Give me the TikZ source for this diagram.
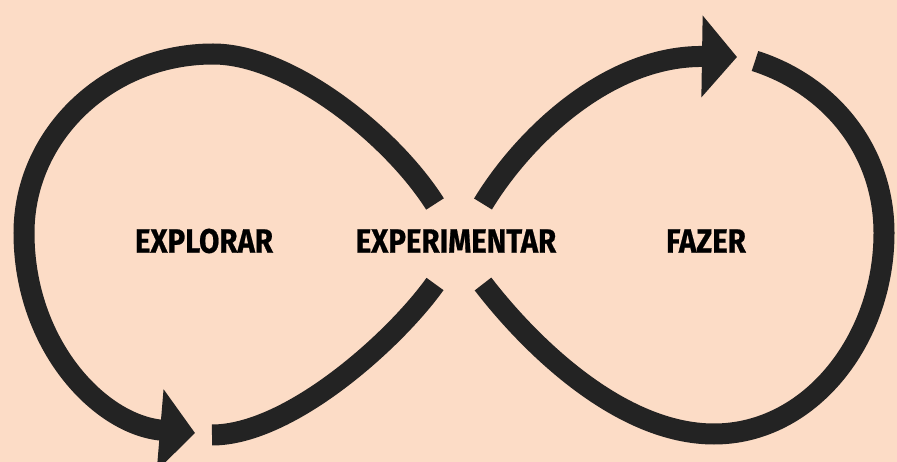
\documentclass[tikz,border=0pt]{standalone}
\usepackage{fontspec}
\newfontfamily\labelfont[FakeStretch=0.87,FakeBold=0.6]{Fira Sans}
\usetikzlibrary{arrows.meta}
\definecolor{peach}{HTML}{FCDCC6}
\definecolor{ink}{HTML}{232323}

\begin{document}
\begin{tikzpicture}[
    x=1pt, y=-1pt,
    loopline/.style={draw=ink, line width=21pt},
    arr/.style={loopline, -{Triangle[length=35pt, width=80pt]}},
    lbl/.style={font=\labelfont\bfseries\fontsize{33.8}{36}\selectfont, inner sep=0pt}
]
\fill[peach] (0,0) rectangle (897,462);
\useasboundingbox (0,0) rectangle (897,462);

\node[lbl] (explorar) at (204,241) {EXPLORAR};
\node[lbl] (experimentar) at (456,241) {EXPERIMENTAR};
\node[lbl] (fazer) at (706,241) {FAZER};

% ends of the four strokes round the crossing
\coordinate (ul) at (435,204);
\coordinate (ll) at (435,284);
\coordinate (ur) at (483,204);
\coordinate (lr) at (483,284);
\coordinate (lefttip) at (195,433);
\coordinate (leftstart) at (212,435);
\coordinate (righttip) at (737,57);
\coordinate (rightstart) at (755,61);

% left loop
\draw[arr] (ul) .. controls (392,136) and (290,54) .. (213,54)
    .. controls (109,54) and (24,134) .. (24,233)
    .. controls (24,345) and (100,425) .. (lefttip);
\draw[loopline] (leftstart) .. controls (290,435) and (395,340) .. (ll);

% right loop
\draw[arr] (ur) .. controls (525,135) and (610,55) .. (righttip);
\draw[loopline] (rightstart) .. controls (830,85) and (884,150) .. (884,233)
    .. controls (884,340) and (810,434) .. (714,434)
    .. controls (620,434) and (530,345) .. (lr);
\end{tikzpicture}
\end{document}
